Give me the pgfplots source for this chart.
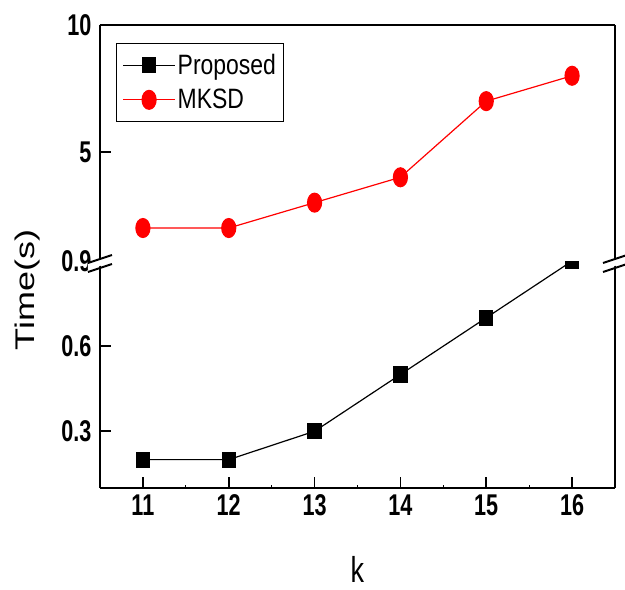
\documentclass[border=0pt]{standalone}
\usepackage{pgfplots}
\pgfplotsset{compat=1.18}
\usepackage{fontspec}
\setmainfont{Liberation Sans}
\newfontfamily\tickfont{Liberation Sans}[FakeStretch=0.72]
\newfontfamily\legfont{Liberation Sans}[FakeStretch=0.82]
\newfontfamily\labfont{Liberation Sans}[FakeStretch=0.75]
\begin{document}
\begin{tikzpicture}[x=1pt,y=1pt]
\useasboundingbox (-100,-102) rectangle (525,488);
\pgfplotsset{
  common/.style={
    scale only axis, width=515pt, xmin=10.5, xmax=16.5,
    axis line style={line width=2.2pt},
    x axis line style={-}, y axis line style={-},
    tick align=inside,
    /pgf/number format/assume math mode=true,
    tick label style={font=\fontsize{30}{32}\selectfont\tickfont\bfseries},
    yticklabel style={xshift=-5pt},
    major tick style={line width=1.6pt, black},
    minor tick style={line width=1pt, black},
    major tick length=11pt, minor tick length=3pt,
    ytick pos=left,
  }
}
\begin{axis}[common, name=low, at={(0pt,0pt)}, anchor=south west, height=227pt,
  axis x line*=bottom, axis y line*=box, xtick pos=bottom,
  ymin=0.1, ymax=0.9, ytick={0.3,0.6,0.9}, yticklabels={0.3,0.6,0.9},
  xtick={11,12,13,14,15,16}, xticklabels={11,12,13,14,15,16},
  xticklabel style={yshift=-3pt},
  minor x tick num=1,
  clip marker paths=true,
  xlabel={k},
  xlabel style={font=\fontsize{36}{40}\selectfont\labfont, inner sep=0pt, at={(rel axis cs:0.5,0)}, anchor=center, yshift=-81pt},
  ylabel={\scalebox{1}[0.75]{Time(s)}},
  ylabel style={font=\fontsize{36}{40}\selectfont, at={(rel axis cs:0,0.872)}, anchor=center, yshift=72pt},
]
\addplot[black, line width=1.2pt, mark=square*, mark size=6.5pt, mark options={yscale=1.15, solid}]
  coordinates {(11,0.2) (12,0.2) (13,0.3) (14,0.5) (15,0.7) (16,0.9)};
\end{axis}
\begin{axis}[common, at={(low.north west)}, anchor=south west, height=236pt,
  axis x line*=top, axis y line*=box, xtick=\empty,
  ymin=0.7, ymax=10, ytick={5,10}, yticklabels={5,10},
  legend style={at={(rel axis cs:0,1)}, anchor=north west, xshift=16pt, yshift=-18pt,
    draw=black, line width=1pt, font=\fontsize{28}{30}\selectfont\legfont,
    inner xsep=6pt, inner ysep=9pt, row sep=9pt},
  legend cell align=left,
  legend image code/.code={\draw[#1, mark repeat=2, mark phase=2] plot coordinates {(0pt,0pt) (26pt,0pt) (52pt,0pt)};},
]
\addlegendimage{black, line width=1.2pt, mark=square*, mark size=6.5pt, mark options={yscale=1.15, solid}}
\addlegendentry{Proposed}
\addplot[red, line width=1.2pt, mark=*, mark size=7pt, mark options={yscale=1.35, solid}]
  coordinates {(11,2) (12,2) (13,3) (14,4) (15,7) (16,8)};
\addlegendentry{MKSD}
\end{axis}
% axis break marks
\foreach \xx in {0,515} {
  \fill[white] (\xx-12,225) -- (\xx+12,233) -- (\xx+12,226) -- (\xx-12,218) -- cycle;
  \draw[line width=2pt] (\xx-12,225) -- (\xx+12,233);
  \draw[line width=2pt] (\xx-12,216) -- (\xx+12,224);
}
\end{tikzpicture}
\end{document}
